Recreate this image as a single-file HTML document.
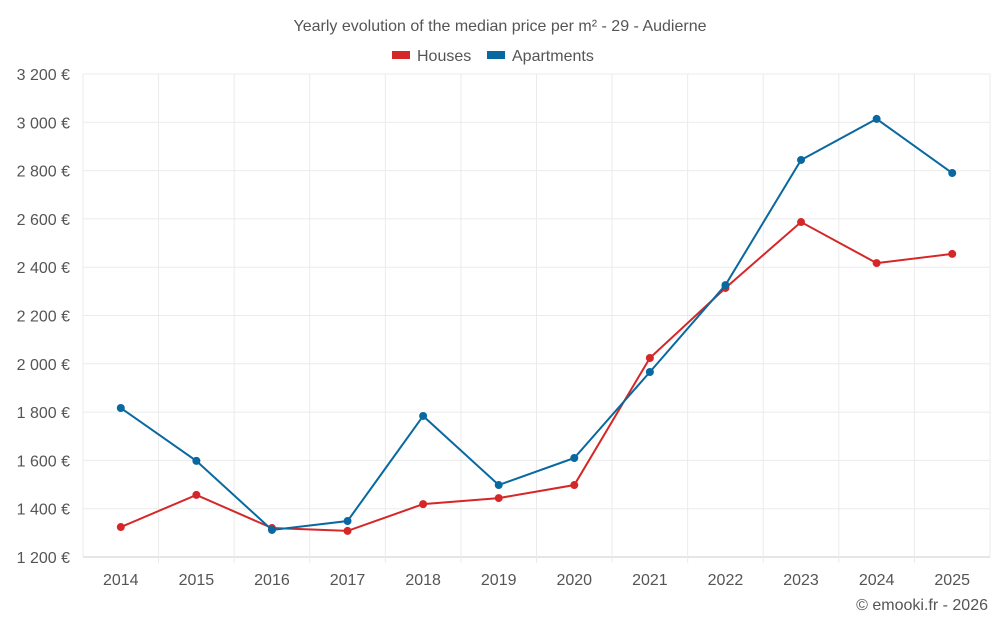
<!DOCTYPE html>
<html><head><meta charset="utf-8"><style>
body{margin:0;background:#fff;font-family:"Liberation Sans",sans-serif}
svg text{font-family:"Liberation Sans",sans-serif}
</style></head><body>
<svg id="c" width="1000" height="625">
<text x="500" y="31" text-anchor="middle" font-size="16" fill="#555">Yearly evolution of the median price per m² - 29 - Audierne</text>
<g>
<rect x="392" y="51" width="18" height="8" fill="#d62728"/>
<text x="417" y="61" font-size="16" fill="#555">Houses</text>
<rect x="487" y="51" width="18" height="8" fill="#0868a0"/>
<text x="512" y="61" font-size="16" fill="#555">Apartments</text>
</g>
<g id="grid"></g><g id="axes"></g><g id="series"></g>
<text x="988" y="610" text-anchor="end" font-size="16" fill="#555">© emooki.fr - 2026</text>
</svg>
<script>
const years=["2014","2015","2016","2017","2018","2019","2020","2021","2022","2023","2024","2025"];
const houses=[1324,1457,1320,1308,1419,1444,1498,2024,2314,2587,2417,2455];
const apartments=[1817,1598,1312,1349,1784,1498,1610,1966,2326,2844,3014,2790];
const yTicks=[1200,1400,1600,1800,2000,2200,2400,2600,2800,3000,3200];
const yLabels=["1 200 €","1 400 €","1 600 €","1 800 €","2 000 €","2 200 €","2 400 €","2 600 €","2 800 €","3 000 €","3 200 €"];
const L=83,R=990,T=74,B=557,ymin=1200,ymax=3200;
const step=(R-L)/years.length;
const x=i=>L+step*(i+0.5);
const y=v=>B-(v-ymin)/(ymax-ymin)*(B-T);
const NS="http://www.w3.org/2000/svg";
function mk(tag,parent,attrs){const e=document.createElementNS(NS,tag);for(const k in attrs)e.setAttribute(k,attrs[k]);parent.appendChild(e);return e;}
const grid=document.getElementById('grid'),axes=document.getElementById('axes'),ser=document.getElementById('series');
yTicks.forEach((t,i)=>{
 const l=mk('line',grid,{x1:L,x2:R,y1:y(t),y2:y(t),stroke:i==0?'#ccc':'#ebebeb'});
 
 
 const tx=mk('text',axes,{x:70,y:y(t)+6,'text-anchor':'end','font-size':'16',fill:'#555'});
 tx.textContent=yLabels[i];
 
 
});
for(let i=0;i<=years.length;i++){
 const l=mk('line',grid,{x1:L+step*i,x2:L+step*i,y1:T,y2:B+(i==0||i==years.length?0:6),stroke:'#ebebeb'});
 
 
}
years.forEach((yr,i)=>{
 const tx=mk('text',axes,{x:x(i),y:585,'text-anchor':'middle','font-size':'16',fill:'#555'});
 tx.textContent=yr;
 
 
});
function series(vals,color,name){
 const p=mk('polyline',ser,{points:vals.map((v,i)=>x(i)+','+y(v)).join(' '),fill:'none',stroke:color,'stroke-width':2});
 
 
 vals.forEach((v,i)=>{
  const c=mk('circle',ser,{cx:x(i),cy:y(v),r:4,fill:color});
  
  
 });
}
series(houses,'#d62728','houses');
series(apartments,'#0868a0','apartments');
</script>
</body></html>
